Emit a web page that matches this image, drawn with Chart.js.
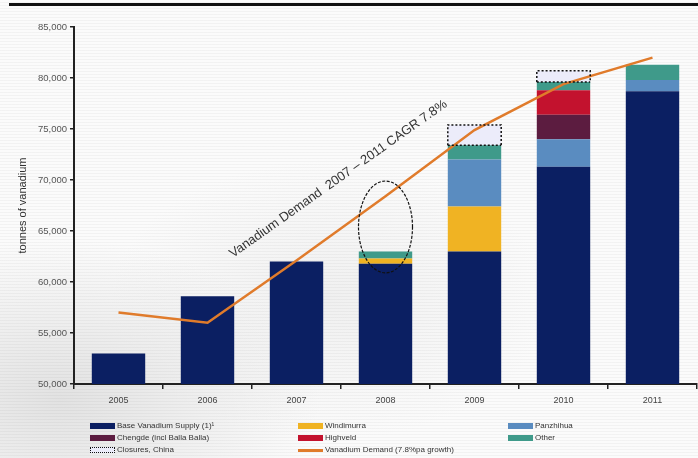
<!DOCTYPE html>
<html>
<head>
<meta charset="utf-8">
<script src="https://cdn.jsdelivr.net/npm/chart.js@4.4.1/dist/chart.umd.min.js"></script>
<style>
    html, body { margin: 0; padding: 0; }
    body {
        width: 698px; height: 458px; overflow: hidden; position: relative;
        font-family: "Liberation Sans", Arial, sans-serif;
        background:
            repeating-linear-gradient(to bottom, rgba(0,0,0,0) 0 2px, rgba(0,0,0,0.035) 2px 3px),
            radial-gradient(ellipse 260px 160px at 60px 400px, #e2e2e2 0%, rgba(226,226,226,0) 100%),
            radial-gradient(ellipse 220px 140px at 330px 300px, #f0f0f0 0%, rgba(240,240,240,0) 100%),
            #fbfbfb;
    }
    #rule { position: absolute; left: 9px; top: 3px; width: 689px; height: 3px; background: #111; }
    #wrap { position: absolute; left: 0; top: 0; width: 698px; height: 458px; }
    .lg { position: absolute; font-size: 8px; color: #333; white-space: nowrap; line-height: 10px; }
    .sw { position: absolute; width: 25px; height: 6px; }
</style>
</head>
<body>
<div id="rule"></div>
<div id="wrap"><canvas id="chart" width="698" height="458"></canvas></div>
<div id="legend"></div>
<script>
const years = ['2005', '2006', '2007', '2008', '2009', '2010', '2011'];
const yTicks = [50000, 55000, 60000, 65000, 70000, 75000, 80000, 85000];

// supply components, tonnes of vanadium
const baseSupply = [53000, 58600, 62000, 61800, 63000, 71300, 78700];
const windimurra = [0, 0, 0, 500, 4400, 0, 0];
const panzhihua  = [0, 0, 0, 0, 4600, 2700, 1100];
const chengde    = [0, 0, 0, 0, 0, 2400, 0];
const highveld   = [0, 0, 0, 0, 0, 2400, 0];
const other      = [0, 0, 0, 700, 1400, 800, 1500];
const closures   = [0, 0, 0, 0, 2000, 1100, 0];
const demand     = [57000, 56000, 62100, 68400, 74900, 79400, 82000];

const curveNote = 'Vanadium Demand  2007 \u2013 2011 CAGR 7.8%';

function barSet(label, data, color) {
    return {
        type: 'bar', label, data,
        backgroundColor: color,
        stack: 'supply', order: 1,
        barPercentage: 0.6, categoryPercentage: 1
    };
}

const datasets = [
    barSet('Base Vanadium Supply (1)\u00b9', baseSupply, '#0b1f62'),
    barSet('Windimurra', windimurra, '#f0b323'),
    barSet('Panzhihua', panzhihua, '#5a8cc0'),
    barSet('Chengde (incl Balla Balla)', chengde, '#5c1c40'),
    barSet('Highveld', highveld, '#c3122e'),
    barSet('Other', other, '#3f9a8a'),
    barSet('Closures, China', closures, '#ececfa'),
    {
        type: 'line', label: 'Vanadium Demand (7.8%pa growth)', data: demand,
        borderColor: '#e07b2b', borderWidth: 2.5, pointRadius: 0,
        tension: 0, fill: false, order: 0
    }
];

// dotted outline round the closures boxes, the ring round 2008 and the slanted note
const extras = {
    id: 'extras',
    afterDatasetsDraw(chart) {
        const ctx = chart.ctx;
        const x = chart.scales.x, y = chart.scales.y;

        const meta = chart.getDatasetMeta(6);
        ctx.save();
        ctx.strokeStyle = '#111';
        ctx.lineWidth = 1.5;
        ctx.setLineDash([2, 2]);
        meta.data.forEach((bar, i) => {
            if (!closures[i]) return;
            const p = bar.getProps(['x', 'y', 'base', 'width'], true);
            const l = p.x - p.width / 2, r = p.x + p.width / 2;
            ctx.beginPath();
            ctx.moveTo(l, p.base);
            ctx.lineTo(l, p.y);
            ctx.lineTo(r, p.y);
            ctx.lineTo(r, p.base);
            ctx.moveTo(l, p.base);
            ctx.lineTo(r, p.base);
            ctx.stroke();
        });
        ctx.restore();

        // ring round 2008
        const cx = x.getPixelForValue(3);
        const top = y.getPixelForValue(69900), bot = y.getPixelForValue(60900);
        ctx.save();
        ctx.strokeStyle = '#111';
        ctx.lineWidth = 1.2;
        ctx.setLineDash([3, 1.5]);
        ctx.beginPath();
        ctx.ellipse(cx, (top + bot) / 2, 27, (bot - top) / 2, 0, 0, Math.PI * 2);
        ctx.stroke();
        ctx.restore();

        ctx.save();
        ctx.translate(x.getPixelForValue(2.47), y.getPixelForValue(70100));
        ctx.rotate(-35.3 * Math.PI / 180);
        ctx.font = '13px "Liberation Sans", Arial, sans-serif';
        ctx.fillStyle = '#333';
        ctx.textAlign = 'center';
        ctx.textBaseline = 'middle';
        ctx.fillText(curveNote, 0, 0);
        ctx.restore();
    }
};

const chart = new Chart(document.getElementById('chart'), {
    data: { labels: years, datasets },
    options: {
        responsive: false,
        animation: false,
        layout: { padding: { top: 27, right: 1, left: 0, bottom: 0 } },
        plugins: { legend: { display: false }, tooltip: { enabled: false } },
        scales: {
            x: {
                stacked: true,
                afterFit(s) { s.height = 74; },
                border: { color: '#222', width: 2 },
                grid: { offset: true, drawOnChartArea: false, drawTicks: true, tickLength: 5, color: '#222', lineWidth: 1.5 },
                ticks: { padding: 6, color: '#444', font: { size: 9, family: '"Liberation Sans", Arial' } }
            },
            y: {
                stacked: true,
                min: 50000, max: 85000,
                afterFit(s) { s.width = 74; },
                afterBuildTicks(s) { s.ticks = yTicks.map(v => ({ value: v })); },
                border: { color: '#222', width: 2 },
                grid: { drawOnChartArea: false, drawTicks: true, tickLength: 4, color: '#222', lineWidth: 1.5 },
                ticks: {
                    padding: 3, color: '#555',
                    font: { size: 9.5, family: '"Liberation Sans", Arial' },
                    callback: v => v.toLocaleString('en-US')
                },
                title: {
                    display: true, text: 'tonnes of vanadium', color: '#333',
                    font: { size: 11, family: '"Liberation Sans", Arial' },
                    padding: { top: 16, bottom: 0 }
                }
            }
        }
    },
    plugins: [extras]
});

// legend in three columns, built from the datasets
const legendSlots = [
    [0, 90, 423], [1, 298, 423], [2, 508, 423],
    [3, 90, 435], [4, 298, 435], [5, 508, 435],
    [6, 90, 447], [7, 298, 447]
];
const legend = document.getElementById('legend');
legendSlots.forEach(([i, lx, ly]) => {
    const ds = chart.data.datasets[i];
    const sw = document.createElement('div');
    sw.className = 'sw';
    sw.style.left = lx + 'px';
    if (ds.type === 'line') {
        sw.style.top = (ly + 2) + 'px';
        sw.style.height = '3px';
        sw.style.background = ds.borderColor;
    } else {
        sw.style.top = ly + 'px';
        sw.style.background = ds.backgroundColor;
        if (i === 6) { sw.style.border = '1px dotted #111'; sw.style.width = '23px'; sw.style.height = '4px'; }
    }
    legend.appendChild(sw);
    const t = document.createElement('div');
    t.className = 'lg';
    t.style.left = (lx + 27) + 'px';
    t.style.top = (ly - 2) + 'px';
    t.textContent = ds.label;
    legend.appendChild(t);
});
</script>
</body>
</html>
